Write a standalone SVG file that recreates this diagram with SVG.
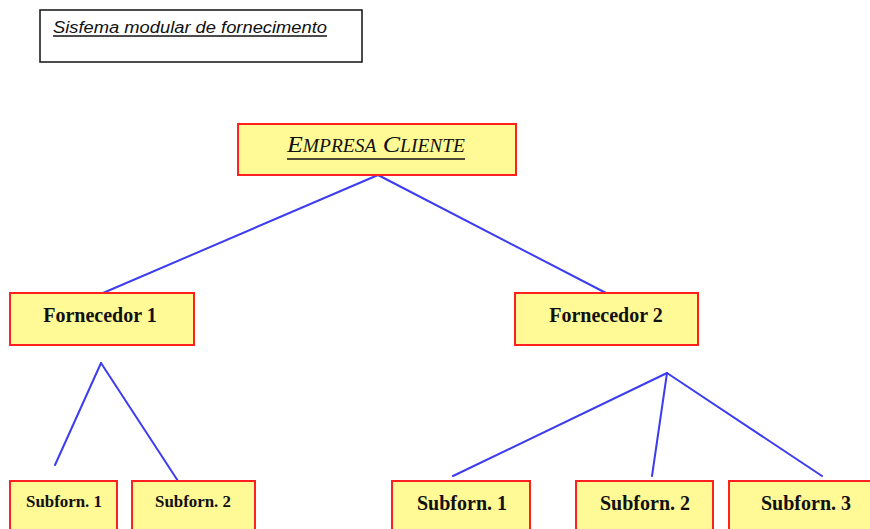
<svg xmlns="http://www.w3.org/2000/svg" width="870" height="529" viewBox="0 0 870 529">
<style>
.box{fill:#FFFA96;stroke:#FF2020;stroke-width:2}
.conn line{stroke:#3C3CF0;stroke-width:2;stroke-linecap:round}
.serif{font-family:"Liberation Serif","Times New Roman",serif;font-weight:bold;fill:#111}
.ul{stroke:#111;stroke-width:1.5}
</style>
<rect width="870" height="529" fill="#fff"/>
<g id="title">
<rect x="40" y="10" width="322" height="52" fill="#fff" stroke="#111" stroke-width="1.5"/>
<text x="53" y="33" font-family="Liberation Sans, Arial, sans-serif" font-style="italic" font-size="16" fill="#111" textLength="274" lengthAdjust="spacingAndGlyphs">Sisfema modular de fornecimento</text>
<line class="ul" x1="53" y1="36" x2="327" y2="36"/>
</g>
<g id="connectors" class="conn">
<line x1="378" y1="175" x2="103" y2="293"/>
<line x1="378" y1="175" x2="606" y2="293"/>
<line x1="101" y1="363" x2="55" y2="465"/>
<line x1="101" y1="363" x2="178" y2="481"/>
<line x1="667" y1="373" x2="453" y2="476"/>
<line x1="667" y1="373" x2="652" y2="476"/>
<line x1="667" y1="373" x2="822" y2="476"/>
</g>
<g id="empresa-cliente">
<rect class="box" x="238" y="124" width="278" height="51"/>
<text x="376" y="152" text-anchor="middle" font-family="Liberation Serif, Times New Roman, serif" font-style="italic" fill="#111" textLength="178" lengthAdjust="spacingAndGlyphs"><tspan font-size="24">E</tspan><tspan font-size="18">MPRESA</tspan><tspan font-size="24"> C</tspan><tspan font-size="18">LIENTE</tspan></text>
<line class="ul" x1="287" y1="159" x2="465" y2="159"/>
</g>
<g id="fornecedor-1">
<rect class="box" x="10" y="293" width="184" height="52"/>
<text class="serif" x="100" y="322" text-anchor="middle" font-size="20">Fornecedor 1</text>
</g>
<g id="fornecedor-2">
<rect class="box" x="515" y="293" width="183" height="52"/>
<text class="serif" x="606" y="322" text-anchor="middle" font-size="20">Fornecedor 2</text>
</g>
<g id="f1-subforn-1">
<rect class="box" x="10" y="481" width="107" height="60"/>
<text class="serif" x="64" y="507" text-anchor="middle" font-size="17" textLength="76" lengthAdjust="spacingAndGlyphs">Subforn. 1</text>
</g>
<g id="f1-subforn-2">
<rect class="box" x="132" y="481" width="123" height="60"/>
<text class="serif" x="193" y="507" text-anchor="middle" font-size="17" textLength="76" lengthAdjust="spacingAndGlyphs">Subforn. 2</text>
</g>
<g id="f2-subforn-1">
<rect class="box" x="392" y="481" width="138" height="60"/>
<text class="serif" x="462" y="510" text-anchor="middle" font-size="20">Subforn. 1</text>
</g>
<g id="f2-subforn-2">
<rect class="box" x="576" y="481" width="137" height="60"/>
<text class="serif" x="645" y="510" text-anchor="middle" font-size="20">Subforn. 2</text>
</g>
<g id="f2-subforn-3">
<rect class="box" x="729" y="481" width="160" height="60"/>
<text class="serif" x="806" y="510" text-anchor="middle" font-size="20">Subforn. 3</text>
</g>
</svg>
